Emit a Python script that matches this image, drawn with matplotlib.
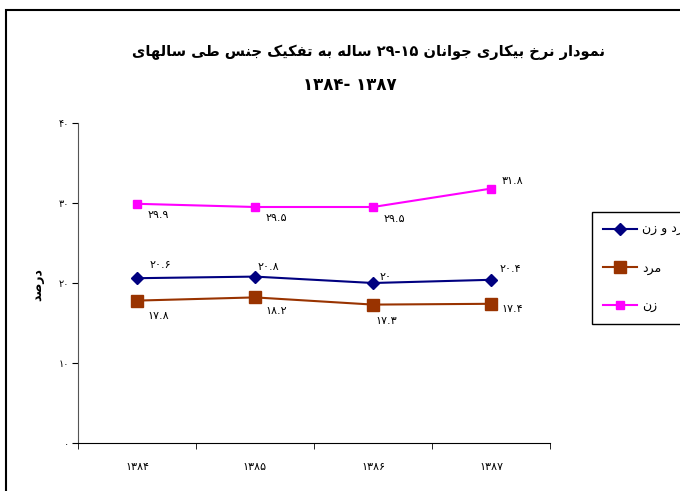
# -*- coding: utf-8 -*-
# Youth unemployment rate (15-29) by sex, 1384-1387
import matplotlib.pyplot as plt
from matplotlib.patches import Rectangle
from matplotlib.lines import Line2D

years = ['۱۳۸۴', '۱۳۸۵', '۱۳۸۶', '۱۳۸۷']
both = [20.6, 20.8, 20.0, 20.4]
men = [17.8, 18.2, 17.3, 17.4]
women = [29.9, 29.5, 29.5, 31.8]
y_ticks = [0, 10, 20, 30, 40]

# presentation forms: (isolated, final[, initial, medial])
FORMS = {
    '\u0627': ('\uFE8D', '\uFE8E'),
    '\u062F': ('\uFEA9', '\uFEAA'),
    '\u0631': ('\uFEAD', '\uFEAE'),
    '\u0632': ('\uFEAF', '\uFEB0'),
    '\u0648': ('\uFEED', '\uFEEE'),
    '\u0628': ('\uFE8F', '\uFE90', '\uFE91', '\uFE92'),
    '\u062A': ('\uFE95', '\uFE96', '\uFE97', '\uFE98'),
    '\u062C': ('\uFE9D', '\uFE9E', '\uFE9F', '\uFEA0'),
    '\u062E': ('\uFEA5', '\uFEA6', '\uFEA7', '\uFEA8'),
    '\u0633': ('\uFEB1', '\uFEB2', '\uFEB3', '\uFEB4'),
    '\u0635': ('\uFEB9', '\uFEBA', '\uFEBB', '\uFEBC'),
    '\u0637': ('\uFEC1', '\uFEC2', '\uFEC3', '\uFEC4'),
    '\u0641': ('\uFED1', '\uFED2', '\uFED3', '\uFED4'),
    '\u0644': ('\uFEDD', '\uFEDE', '\uFEDF', '\uFEE0'),
    '\u0645': ('\uFEE1', '\uFEE2', '\uFEE3', '\uFEE4'),
    '\u0646': ('\uFEE5', '\uFEE6', '\uFEE7', '\uFEE8'),
    '\u0647': ('\uFEE9', '\uFEEA', '\uFEEB', '\uFEEC'),
    '\u06A9': ('\uFB8E', '\uFB8F', '\uFB90', '\uFB91'),
    '\u0643': ('\uFB8E', '\uFB8F', '\uFB90', '\uFB91'),
    '\u06CC': ('\uFBFC', '\uFBFD', '\uFBFE', '\uFBFF'),
    '\u064A': ('\uFBFC', '\uFBFD', '\uFBFE', '\uFBFF'),
}


def shape_word(word):
    out = []
    for i, ch in enumerate(word):
        f = FORMS.get(ch)
        if f is None:
            out.append(ch)
            continue
        prev = word[i - 1] if i > 0 else ''
        nxt = word[i + 1] if i < len(word) - 1 else ''
        join_prev = prev in FORMS and len(FORMS[prev]) == 4
        join_next = len(f) == 4 and nxt in FORMS
        if join_prev and join_next:
            out.append(f[3])
        elif join_prev:
            out.append(f[1])
        elif join_next:
            out.append(f[2])
        else:
            out.append(f[0])
    return ''.join(reversed(out))


def rtl(text):
    tokens = text.split(' ')
    return ' '.join(shape_word(t) if any(c in FORMS for c in t) else t
                    for t in reversed(tokens))


def fa(v):
    return ('%g' % v).translate(str.maketrans('0123456789', '۰۱۲۳۴۵۶۷۸۹'))


plt.rcParams['font.family'] = ['DejaVu Sans']

fig = plt.figure(figsize=(6.8, 4.91), dpi=100)
ax = fig.add_axes([78 / 680, 1 - 443 / 491, 472 / 680, 320 / 491])

x = range(len(years))
l1, = ax.plot(x, both, color='#000080', lw=1.5, marker='D', ms=6.5)
l2, = ax.plot(x, men, color='#993300', lw=1.5, marker='s', ms=8.5)
l3, = ax.plot(x, women, color='#FF00FF', lw=1.5, marker='s', ms=6)

# data labels
off_both = [(13, 13), (3, 10), (7, 6), (9, 11)]
off_men = [(10, -15), (10, -14), (2, -16), (10, -5)]
off_women = [(11, -11), (11, -11), (11, -12), (11, 8)]
for vals, offs in [(both, off_both), (men, off_men), (women, off_women)]:
    for i, v in enumerate(vals):
        ax.annotate(fa(v), (i, v), xytext=offs[i], textcoords='offset pixels',
                    ha='left', va='center', fontsize=8)

ax.set_xlim(-0.5, 3.5)
ax.set_ylim(0, 40)
ax.set_yticks(y_ticks)
ax.set_yticklabels([fa(t) for t in y_ticks], fontsize=7)
ax.set_xticks(list(x))
ax.set_xticklabels(years, fontsize=8)
ax.set_xticks([-0.5, 0.5, 1.5, 2.5, 3.5], minor=True)
ax.tick_params(axis='x', which='major', length=0, pad=14)
ax.tick_params(axis='x', which='minor', length=4, direction='out')
ax.tick_params(axis='y', length=4.5, direction='out', pad=2)
for s in ['top', 'right']:
    ax.spines[s].set_visible(False)
ax.spines['left'].set_color('#555555')

fig.text(369 / 680, 1 - 52 / 491,
         rtl('نمودار نرخ بیکاری جوانان ۲۹-۱۵ ساله به تفکیک جنس طی سالهای'),
         ha='center', va='center', fontsize=10.5, fontweight='bold')
fig.text(350 / 680, 1 - 85 / 491, '۱۳۸۴- ۱۳۸۷',
         ha='center', va='center', fontsize=12, fontweight='bold')
fig.text(38 / 680, 1 - 285 / 491, rtl('درصد'), rotation=90,
         ha='center', va='center', fontsize=9, fontweight='bold')

handles = [Line2D([], [], color=l.get_color(), lw=1.5, marker=l.get_marker(),
                  ms=l.get_markersize()) for l in (l1, l2, l3)]
leg = fig.legend(handles, [rtl('مرد و زن'), rtl('مرد'), rtl('زن')],
                 loc='upper left', bbox_to_anchor=(592 / 680, 1 - 212 / 491),
                 borderaxespad=0, fancybox=False, edgecolor='black',
                 framealpha=1, fontsize=9, handlelength=2.7, labelspacing=2.0,
                 borderpad=0.9, handletextpad=0.4)
leg.get_frame().set_linewidth(1)

fig.patches.append(Rectangle((6 / 680, -0.5), 2, 0.5 + 1 - 10 / 491,
                             transform=fig.transFigure, fill=False,
                             lw=1.5, ec='black'))

fig.savefig('out.png', dpi=100)
